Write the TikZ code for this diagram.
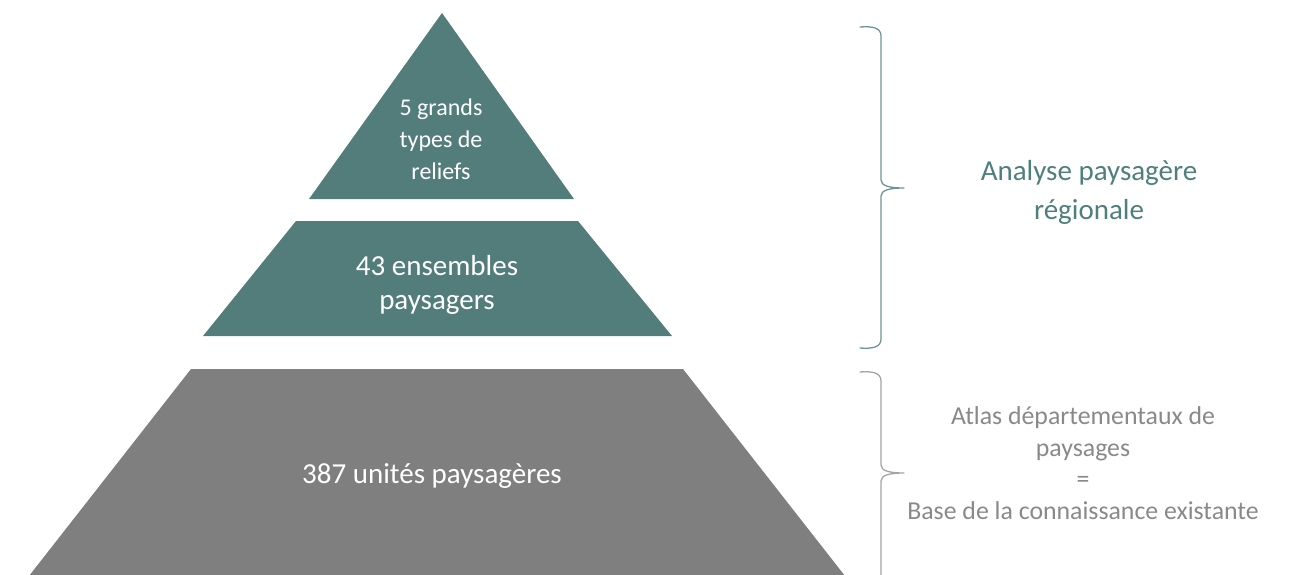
\documentclass[tikz,border=0pt]{standalone}
\usepackage{fontspec}
\setmainfont{Carlito}
\definecolor{teal1}{HTML}{527D7B}
\definecolor{gray1}{HTML}{7F7F7F}
\definecolor{tealtxt}{HTML}{4F7F7C}
\definecolor{graytxt}{HTML}{898989}
\definecolor{tealbrace}{HTML}{6E9593}
\definecolor{graybrace}{HTML}{A3A3A3}
\tikzset{
  level/.style={draw=none},
  lbl/.style={text=white, align=center, inner sep=0pt},
  side/.style={align=center, inner sep=0pt},
  brace/.style={line width=1.3pt, line cap=round, line join=round}
}
\begin{document}
\begin{tikzpicture}[x=1pt,y=-1pt]
\useasboundingbox (0,0) rectangle (1303,575);
\clip (0,0) rectangle (1303,575);
% pyramid levels
\fill[teal1] (442,13) -- (574,199) -- (309,199) -- cycle;
\fill[teal1] (296,221) -- (578,221) -- (672,336) -- (203,336) -- cycle;
\fill[gray1] (191,369) -- (683,369) -- (845,576) -- (29,576) -- cycle;
% labels
\node[lbl, font=\fontsize{24}{32}\selectfont] (t1) at (441,139) {5 grands\\types de\\reliefs};
\node[lbl, font=\fontsize{29}{34}\selectfont] (t2) at (437,285) {43 ensembles\\paysagers};
\node[lbl, font=\fontsize{29}{34}\selectfont] (t3) at (432,476) {387 unités paysagères};
% braces
\draw[brace, tealbrace] (860,27) .. controls (873,26) and (881,28) .. (881,36)
  -- (881,180) .. controls (881,186) and (890,188) .. (904,188)
  .. controls (890,188) and (881,190) .. (881,196)
  -- (881,339) .. controls (881,347) and (873,349) .. (860,348);
\draw[brace, graybrace] (860,372) .. controls (873,371) and (881,373) .. (881,381)
  -- (881,465) .. controls (881,471) and (890,473) .. (904,473)
  .. controls (890,473) and (881,475) .. (881,481)
  -- (881,580);
% side texts
\node[side, text=tealtxt, font=\fontsize{29}{39}\selectfont] (s1) at (1089,192) {Analyse paysagère\\régionale};
\node[side, text=graytxt, font=\fontsize{25.8}{31.5}\selectfont] (s2) at (1083,463) {Atlas départementaux de\\paysages\\=\\Base de la connaissance existante};
\end{tikzpicture}
\end{document}
